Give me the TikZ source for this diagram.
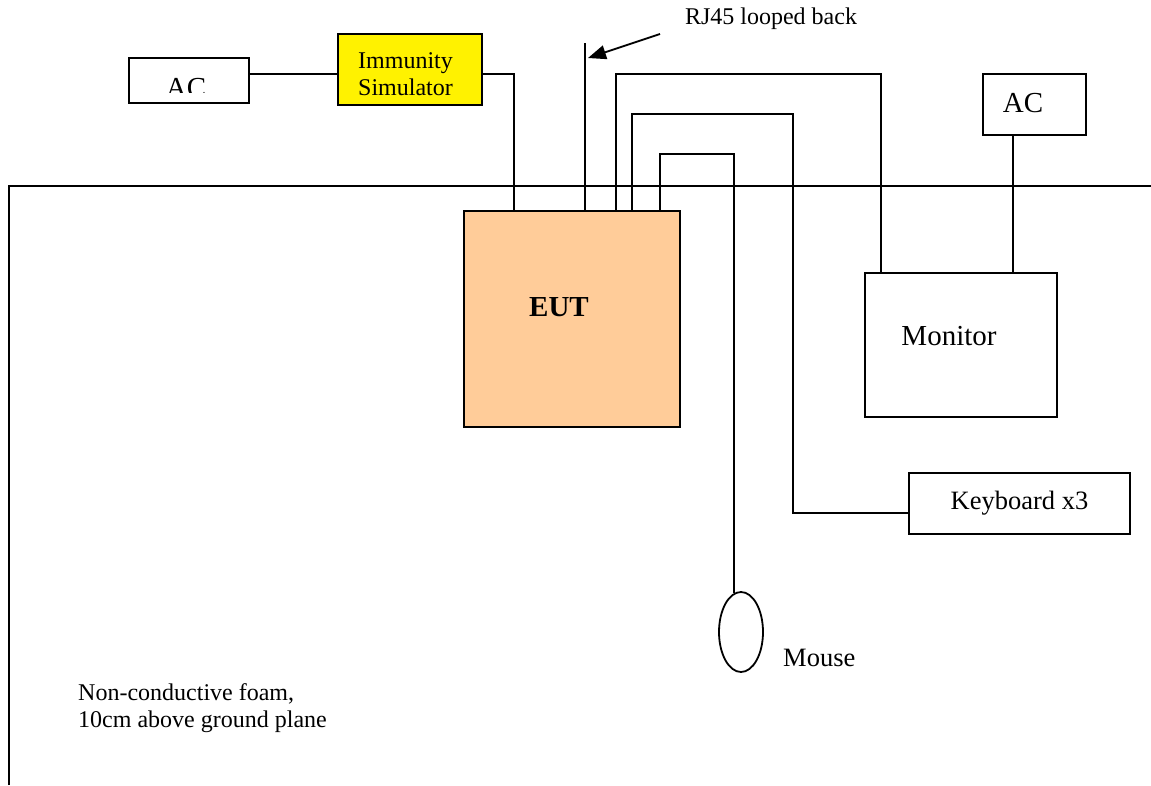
\documentclass[tikz,border=0pt]{standalone}
\usepackage{fontspec}
\setmainfont{Liberation Serif}
\usetikzlibrary{arrows.meta,shapes.geometric}
\definecolor{eutfill}{RGB}{255,204,153}
\tikzset{
  unit/.style={draw,line width=1.8pt,inner sep=0pt,align=center},
  cable/.style={line width=1.8pt},
  txt/.style={inner sep=0pt}
}
\begin{document}
\begin{tikzpicture}[x=1pt,y=-1pt]
      \useasboundingbox (0,0) rectangle (1151,785);
      % table top
      \draw[cable] (9,785) -- (9,186) -- (1151,186);

      \node[unit,minimum width=120pt,minimum height=45pt] (acL) at (189,80.5) {};
      \begin{scope}
        \clip (130,59) rectangle (248,92);
        \node[txt,font=\fontsize{29}{30}\selectfont] (acLlbl) at (186,88) {AC};
      \end{scope}
      \node[unit,fill=yellow,minimum width=144pt,minimum height=71pt] (sim) at (410,69.5) {};
      \node[txt,anchor=west,align=left,font=\fontsize{24}{27}\selectfont] (simlbl) at (358,74) {Immunity\\Simulator};
      \node[unit,fill=eutfill,minimum width=216pt,minimum height=216pt] (eut) at (572,319) {};
      \node[txt,font=\bfseries\fontsize{29}{30}\selectfont] (eutlbl) at (559,307) {EUT};
      \node[unit,minimum width=192pt,minimum height=144pt] (monitor) at (961,345) {};
      \node[txt,font=\fontsize{29}{30}\selectfont] (monlbl) at (949,336) {Monitor};
      \node[unit,minimum width=103pt,minimum height=61pt] (acR) at (1034.5,104.5) {};
      \node[txt,font=\fontsize{29}{30}\selectfont] (acRlbl) at (1023,103) {AC};
      \node[unit,minimum width=221pt,minimum height=61pt,font=\fontsize{26.5}{28}\selectfont] (kbd) at (1019.5,503.5) {Keyboard x3};
      \node[unit,ellipse,minimum width=44pt,minimum height=80pt] (mouse) at (741,632) {};
      \node[txt,anchor=west,font=\fontsize{26.5}{28}\selectfont] (mouselbl) at (783,658) {Mouse};
      \node[txt,font=\fontsize{24}{26}\selectfont] (rjlbl) at (771,19) {RJ45 looped back};
      \node[txt,anchor=north west,align=left,font=\fontsize{24}{27}\selectfont] (foam) at (78,683) {Non-conductive foam,\\10cm above ground plane};

      % cables
      \draw[cable] (acL.east |- 0,74) -- (sim.west |- 0,74) ;
      \draw[cable] (sim.east |- 0,74) -| (eut.north -| 514,0);
      \coordinate (rjend) at (585,43);
      \draw[cable] (eut.north -| rjend) -- (rjend);
      \coordinate (rjtail) at (660,34);
      \draw[cable,-{Triangle[length=18pt,width=14pt]}] (rjtail) -- (588,58);
      \draw[cable] (eut.north -| 616,0) -- (616,74) -| (monitor.north -| 881,0);
      \draw[cable] (acR.south -| 1013,0) -- (monitor.north -| 1013,0);
      \draw[cable] (eut.north -| 632,0) -- (632,114) -| (793,513) -- (kbd.west |- 0,513);
      \draw[cable] (eut.north -| 660,0) -- (660,154) -| (mouse.100);
\end{tikzpicture}
\end{document}
